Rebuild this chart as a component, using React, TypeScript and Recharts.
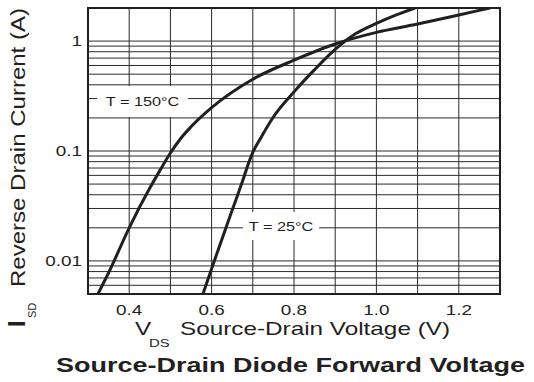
import { LineChart, Line, XAxis, YAxis, CartesianGrid, ReferenceArea } from "recharts";

// T = 150°C curve
const vds150 = [0.324, 0.35, 0.4, 0.45, 0.475, 0.5, 0.525, 0.55, 0.6, 0.7, 0.8, 0.9, 1.0, 1.1, 1.2, 1.276];
const isd150 = [0.005, 0.0078, 0.02, 0.046, 0.067, 0.096, 0.13, 0.166, 0.248, 0.45, 0.67, 0.94, 1.2, 1.43, 1.73, 2.0];

// T = 25°C curve
const vds25 = [0.579, 0.6, 0.65, 0.675, 0.69, 0.7, 0.72, 0.75, 0.8, 0.85, 0.9, 0.95, 1.0, 1.05, 1.094];
const isd25 = [0.005, 0.0085, 0.029, 0.053, 0.078, 0.097, 0.133, 0.204, 0.345, 0.55, 0.84, 1.17, 1.45, 1.74, 2.0];

const xTicks = [0.3, 0.4, 0.5, 0.6, 0.7, 0.8, 0.9, 1.0, 1.1, 1.2, 1.3];
const xLabels = ["0.4", "0.6", "0.8", "1.0", "1.2"];
const yTicks = [
  0.005, 0.006, 0.007, 0.008, 0.009,
  0.01, 0.02, 0.03, 0.04, 0.05, 0.06, 0.07, 0.08, 0.09,
  0.1, 0.2, 0.3, 0.4, 0.5, 0.6, 0.7, 0.8, 0.9,
  1, 2,
];
const yLabels = ["0.01", "0.1", "1"];

const data150 = vds150.map((v, k) => ({ v, i: isd150[k] }));
const data25 = vds25.map((v, k) => ({ v, i: isd25[k] }));

const FONT = "'Liberation Sans', Arial, Helvetica, sans-serif";
const INK = "#231f20";
const SX = 1.35; // the source type is set wide

const XTick = ({ x, y, payload }: any) => {
  const s = Number(payload.value).toFixed(1);
  if (!xLabels.includes(s)) return null;
  return (
    <g transform={`translate(${x},${y + 21}) scale(${SX},1)`}>
      <text x={0} y={0} textAnchor="middle" fontSize={14} fontFamily={FONT} fill={INK}>
        {s}
      </text>
    </g>
  );
};

const YTick = ({ x, y, payload }: any) => {
  const s = String(payload.value);
  if (!yLabels.includes(s)) return null;
  return (
    <g transform={`translate(${x - 6},${y}) scale(${SX},1)`}>
      <text x={0} y={0} dy="0.36em" textAnchor="end" fontSize={14} fontFamily={FONT} fill={INK}>
        {s}
      </text>
    </g>
  );
};

const BoxLabel = ({ viewBox, text }: any) => {
  const { x, y, width, height } = viewBox;
  return (
    <g transform={`translate(${x + width / 2},${y + height / 2}) scale(1.25,1)`}>
      <text x={0} y={0} dy="0.36em" textAnchor="middle" fontSize={13} fontFamily={FONT} fill={INK}>
        {text}
      </text>
    </g>
  );
};

export default function App() {
  return (
    <div style={{ position: "absolute", left: 0, top: 0, width: 534, height: 382, background: "#fff" }}>
      <LineChart width={534} height={382} margin={{ top: 8, right: 34, left: 0, bottom: 0 }}>
        <CartesianGrid stroke="#2b2b2b" strokeWidth={1} />
        <XAxis
          type="number"
          dataKey="v"
          domain={[0.3, 1.3]}
          ticks={xTicks}
          allowDataOverflow
          height={88}
          axisLine={false}
          tickLine={false}
          tickSize={0}
          tickMargin={0}
          interval={0}
          tick={(p: any) => <XTick {...p} />}
        />
        <YAxis
          type="number"
          dataKey="i"
          scale="log"
          domain={[0.005, 2]}
          ticks={yTicks}
          allowDataOverflow
          width={88}
          axisLine={false}
          tickLine={false}
          tickSize={0}
          tickMargin={0}
          interval={0}
          tick={(p: any) => <YTick {...p} />}
        />
        <ReferenceArea
          x1={0.322}
          x2={0.543}
          y1={0.204}
          y2={0.39}
          fill="#fff"
          fillOpacity={1}
          stroke="none"
          label={<BoxLabel text="T = 150°C" />}
        />
        <ReferenceArea
          x1={0.676}
          x2={0.861}
          y1={0.0155}
          y2={0.0279}
          fill="#fff"
          fillOpacity={1}
          stroke="none"
          label={<BoxLabel text="T = 25°C" />}
        />
        <Line
          data={data150}
          dataKey="i"
          type="monotone"
          stroke={INK}
          strokeWidth={3}
          dot={false}
          isAnimationActive={false}
        />
        <Line
          data={data25}
          dataKey="i"
          type="monotone"
          stroke={INK}
          strokeWidth={3}
          dot={false}
          isAnimationActive={false}
        />
        <ReferenceArea
          x1={0.3}
          x2={1.3}
          y1={0.005}
          y2={2}
          fill="none"
          stroke={INK}
          strokeWidth={2}
        />
      </LineChart>
      <svg
        width={534}
        height={382}
        style={{ position: "absolute", left: 0, top: 0, pointerEvents: "none" }}
      >
        <g fontFamily={FONT} fill={INK}>
          <text transform="translate(25,327) rotate(-90)" fontSize={24} fontWeight="bold">I</text>
          <text transform="translate(36,318) rotate(-90)" fontSize={11}>SD</text>
          <text
            transform="translate(25,287) rotate(-90)"
            fontSize={20}
            textLength={279}
            lengthAdjust="spacingAndGlyphs"
          >
            Reverse Drain Current (A)
          </text>
          <text transform={`translate(135,335) scale(${SX},1)`} fontSize={18}>V</text>
          <text transform={`translate(149,347) scale(${SX},1)`} fontSize={11}>DS</text>
          <text transform={`translate(180,335) scale(${SX},1)`} fontSize={18}>
            Source-Drain Voltage (V)
          </text>
          <text transform={`translate(56,372) scale(${SX},1)`} fontSize={20} fontWeight="bold">
            Source-Drain Diode Forward Voltage
          </text>
        </g>
      </svg>
    </div>
  );
}
